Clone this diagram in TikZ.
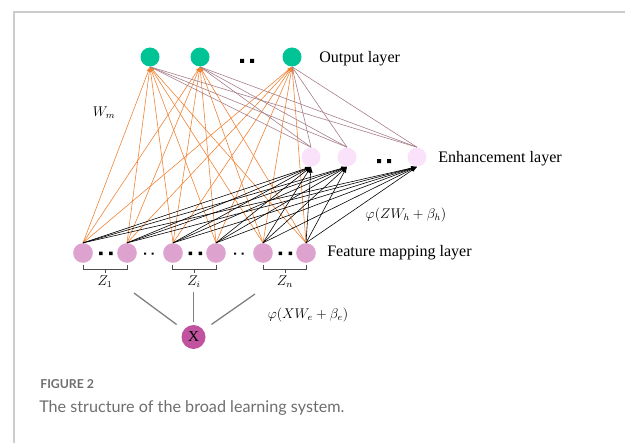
\documentclass[tikz,border=0pt]{standalone}
\usepackage{fontspec}
\setmainfont{Liberation Serif}
\newfontfamily\capfont{Lato}
\usetikzlibrary{arrows.meta}
\definecolor{outgreen}{RGB}{0,196,150}
\definecolor{enhpink}{RGB}{250,226,250}
\definecolor{featpink}{RGB}{222,162,206}
\definecolor{xmagenta}{RGB}{192,82,160}
\definecolor{wtorange}{RGB}{240,130,50}
\definecolor{wtbrown}{RGB}{165,125,135}
\definecolor{framegray}{RGB}{204,204,204}
\definecolor{capgray}{RGB}{110,110,110}

\begin{document}
\begin{tikzpicture}[x=0.3mm,y=-0.3mm,line width=0.5pt,
  unit/.style={circle,inner sep=0pt,minimum size=5.7mm},
  layerlab/.style={anchor=base west,inner sep=0pt,font=\fontsize{13.7}{16}\selectfont},
  mathlab/.style={inner sep=0pt,font=\fontsize{11.5}{13}\selectfont},
  grp/.style={black!70,line width=0.6pt},
  xline/.style={black!50,line width=1.1pt}]
  \useasboundingbox (0,0) rectangle (625,443);
  % frame
  \draw[framegray,line width=1.2pt] (14,443) -- (14,12) -- (625,12);

  % output layer
  \node[unit,fill=outgreen] (o1) at (150,57) {};
  \node[unit,fill=outgreen] (o2) at (200,57) {};
  \node[unit,fill=outgreen] (o3) at (292,57) {};
  \fill (240,59) rectangle ++(4,4) (250,59) rectangle ++(4,4);
  \node[layerlab] (lout) at (319,62.7) {Output layer};

  % enhancement layer
  \node[unit,fill=enhpink] (e1) at (311,157) {};
  \node[unit,fill=enhpink] (e2) at (347,157) {};
  \node[unit,fill=enhpink] (e3) at (417,157) {};
  \fill (377,159) rectangle ++(4,4) (387,159) rectangle ++(4,4);
  \node[layerlab] (lenh) at (438,162.7) {Enhancement layer};

  % feature mapping layer
  \node[unit,fill=featpink,minimum size=5.9mm] (f1) at (83,253) {};
  \node[unit,fill=featpink,minimum size=5.9mm] (f2) at (127,253) {};
  \node[unit,fill=featpink,minimum size=5.9mm] (f3) at (173,253) {};
  \node[unit,fill=featpink,minimum size=5.9mm] (f4) at (216,253) {};
  \node[unit,fill=featpink,minimum size=5.9mm] (f5) at (263,253) {};
  \node[unit,fill=featpink,minimum size=5.9mm] (f6) at (306,253) {};
  \fill (99,251.5) rectangle ++(3.5,3.5) (109,251.5) rectangle ++(3.5,3.5)
        (188.5,251.5) rectangle ++(3.5,3.5) (198.5,251.5) rectangle ++(3.5,3.5)
        (278.5,251.5) rectangle ++(3.5,3.5) (288.5,251.5) rectangle ++(3.5,3.5);
  \fill (144,252.5) rectangle ++(2.2,2.2) (151.5,252.5) rectangle ++(2.2,2.2)
        (234,252.5) rectangle ++(2.2,2.2) (241.5,252.5) rectangle ++(2.2,2.2);
  \node[layerlab] (lfeat) at (327,256.7) {Feature mapping layer};

  % weights
  \foreach \i in {1,...,6}
    \foreach \j in {1,2,3}
      \draw[wtorange,-{Latex[length=4pt,width=3pt]}] (f\i.north) -- (o\j.south);
  \foreach \i in {1,2,3}
    \foreach \j in {1,2,3}
      \draw[wtbrown] (e\i.north) -- (o\j.south);
  \foreach \i in {1,...,6}
    \foreach \j in {1,2,3}
      \draw[-{Latex[length=5pt,width=3.5pt]}] (f\i.north) -- (e\j.south);

  % groups
  \draw[grp] (83,265) -- (83,269) -- (127,269) -- (127,265) (105,269) -- (105,273);
  \draw[grp] (172,265) -- (172,269) -- (216,269) -- (216,265) (194,269) -- (194,273);
  \draw[grp] (263,265) -- (263,269) -- (306,269) -- (306,265) (285,269) -- (285,273);
  \node[mathlab,anchor=base] (z1) at (105,285) {$Z_1$};
  \node[mathlab,anchor=base] (zi) at (194,285) {$Z_i$};
  \node[mathlab,anchor=base] (zn) at (285,285) {$Z_n$};

  % input
  \node[unit,fill=xmagenta,minimum size=7.2mm,font=\fontsize{13}{15}\selectfont] (x) at (193.5,337) {X};
  \coordinate (zt1) at (134,293);
  \coordinate (zt2) at (193.5,292);
  \coordinate (zt3) at (255,294);
  \draw[xline,shorten <=2.6mm] (x) -- (zt1);
  \draw[xline,shorten <=0.9mm] (x) -- (zt2);
  \draw[xline,shorten <=2.9mm] (x) -- (zt3);

  \node[mathlab] (lwm) at (104,113) {$W_m$};
  \node[mathlab] (lphih) at (406,215) {$\varphi(ZW_h+\beta_h)$};
  \node[mathlab] (lphie) at (308,315) {$\varphi(XW_e+\beta_e)$};

  % caption
  \node[anchor=base west,inner sep=0pt,text=capgray,font=\capfont\bfseries\fontsize{10.5}{12}\selectfont] (fig) at (40,388.3) {FIGURE 2};
  \node[anchor=base west,inner sep=0pt,text=capgray,font=\capfont\fontsize{13.8}{16}\selectfont] (cap) at (39,412) {The structure of the broad learning system.};
\end{tikzpicture}
\end{document}
